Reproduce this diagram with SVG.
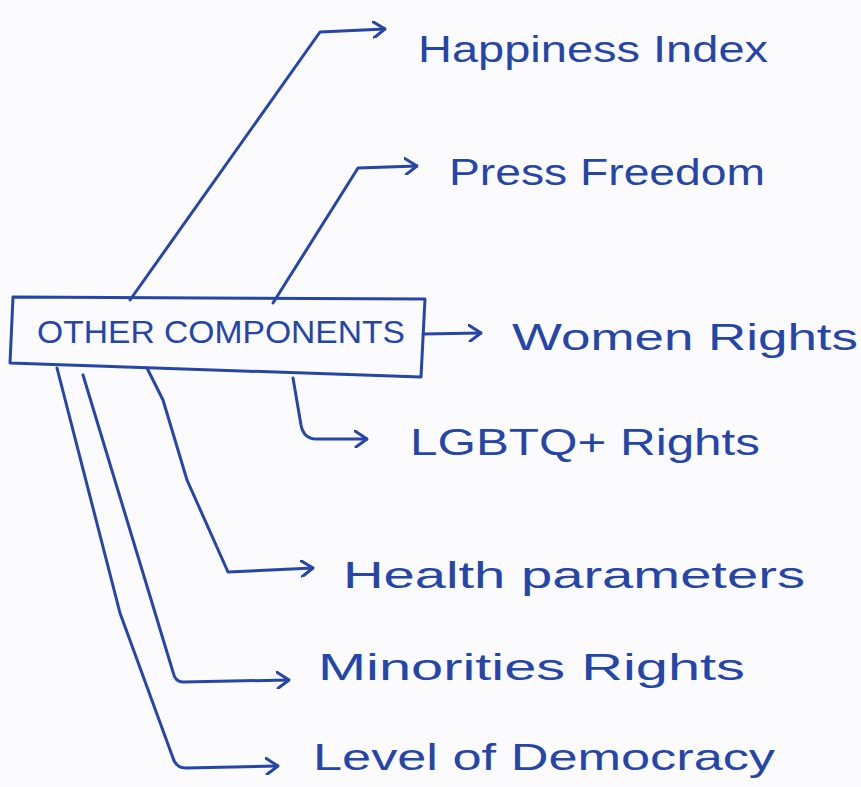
<svg xmlns="http://www.w3.org/2000/svg" width="861" height="787" viewBox="0 0 861 787">
  <defs>
    <style>
      .ink { fill: none; stroke: #2546a8; stroke-width: 3; stroke-linecap: round; stroke-linejoin: round; }
      .lbl { font-family: "Liberation Sans", Arial, sans-serif; fill: #2546a8; font-size: 36px; lengthAdjust: spacingAndGlyphs; }
      .box-text { font-family: "Liberation Sans", Arial, sans-serif; fill: #2546a8; font-size: 32px; }
    </style>
    <marker id="arrow" viewBox="0 0 14 18" refX="13" refY="9" markerWidth="14" markerHeight="18" markerUnits="userSpaceOnUse" orient="auto">
      <path d="M1,1 L13,9 L2,17" fill="none" stroke="#2546a8" stroke-width="3" stroke-linecap="round" stroke-linejoin="round"/>
    </marker>
  </defs>
  <rect width="861" height="787" fill="#fbfbfd"/>

  <g id="connectors">
    <path class="ink" d="M130,300 L320,32 L385,29" marker-end="url(#arrow)"/>
    <path class="ink" d="M273,303 L358,168 L417,166" marker-end="url(#arrow)"/>
    <path class="ink" d="M423,334 L481,333" marker-end="url(#arrow)"/>
    <path class="ink" d="M293,378 L301,425 Q304,440 318,439 L367,439" marker-end="url(#arrow)"/>
    <path class="ink" d="M147,368 L163,400 L187,480 L228,572 L313,568" marker-end="url(#arrow)"/>
    <path class="ink" d="M83,375 L173,672 Q175,682 183,682 L289,680" marker-end="url(#arrow)"/>
    <path class="ink" d="M57,368 L120,613 L173,758 Q176,768 186,768 L278,766" marker-end="url(#arrow)"/>
  </g>

  <g id="other-components">
    <path class="ink" d="M13,297 L425,299 L421,377 L10,363 Z"/>
    <text class="box-text" x="37" y="343" textLength="368" lengthAdjust="spacingAndGlyphs">OTHER COMPONENTS</text>
  </g>
  <g id="happiness-index">
    <text class="lbl" x="418" y="62" textLength="350" lengthAdjust="spacingAndGlyphs">Happiness Index</text>
  </g>
  <g id="press-freedom">
    <text class="lbl" x="449" y="185" textLength="316" lengthAdjust="spacingAndGlyphs">Press Freedom</text>
  </g>
  <g id="women-rights">
    <text class="lbl" x="512" y="350" textLength="346" lengthAdjust="spacingAndGlyphs">Women Rights</text>
  </g>
  <g id="lgbtq-rights">
    <text class="lbl" x="410" y="455" textLength="350" lengthAdjust="spacingAndGlyphs">LGBTQ+ Rights</text>
  </g>
  <g id="health-parameters">
    <text class="lbl" x="343" y="588" textLength="462" lengthAdjust="spacingAndGlyphs">Health parameters</text>
  </g>
  <g id="minorities-rights">
    <text class="lbl" x="318" y="680" textLength="427" lengthAdjust="spacingAndGlyphs">Minorities Rights</text>
  </g>
  <g id="level-of-democracy">
    <text class="lbl" x="313" y="770" textLength="462" lengthAdjust="spacingAndGlyphs">Level of Democracy</text>
  </g>
</svg>
